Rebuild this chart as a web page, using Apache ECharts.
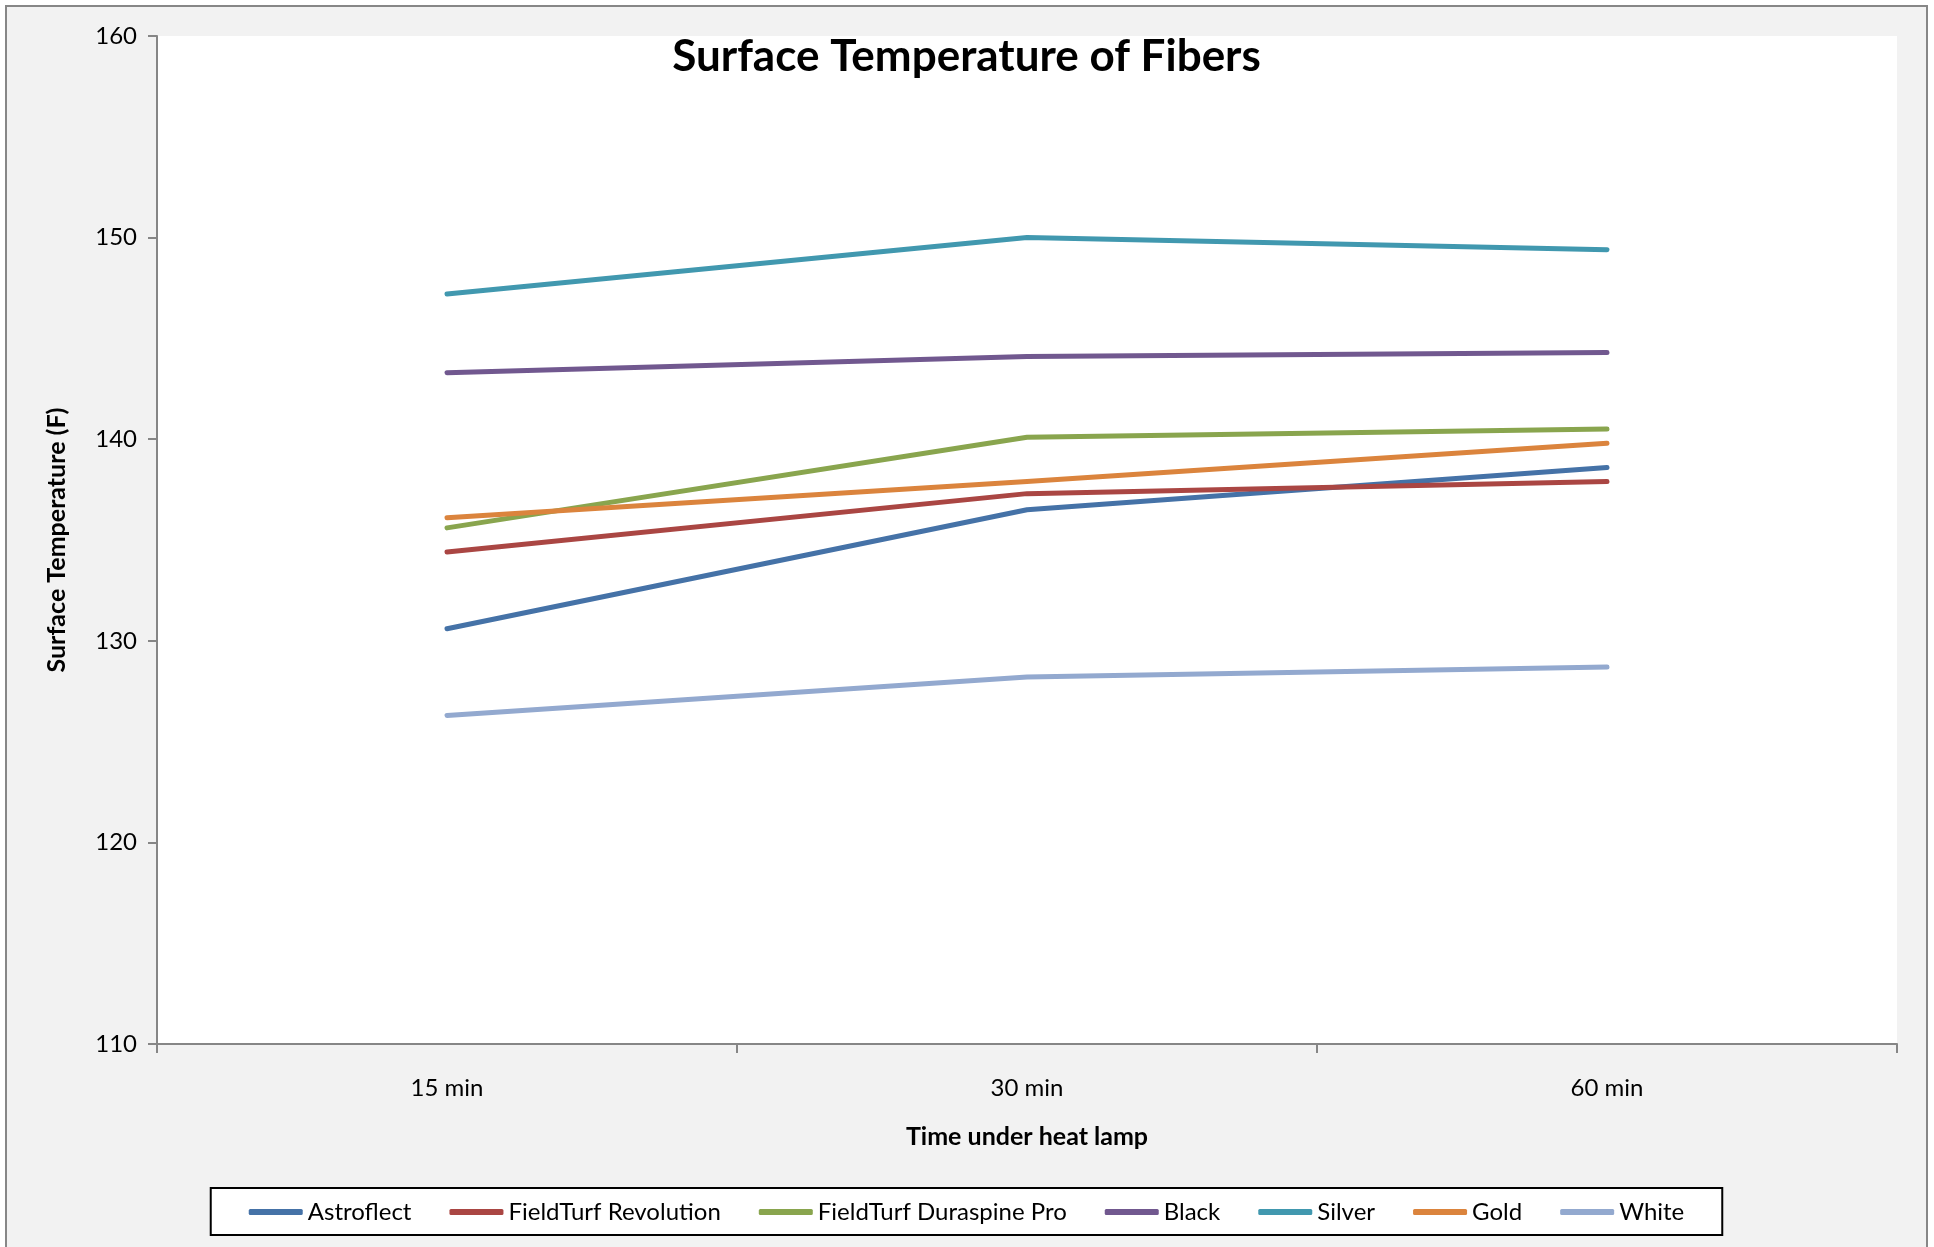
<!DOCTYPE html>
<html>
<head>
<meta charset="utf-8">
<title>Surface Temperature of Fibers</title>
<script src="https://cdn.jsdelivr.net/npm/echarts@6/dist/echarts.min.js"></script>
<style>
  html, body { margin: 0; padding: 0; background: #ffffff; overflow: hidden; }
  #chart {
    position: absolute; left: 5px; top: 5px;
    width: 1919px; height: 1240px;
    border: 2px solid #878787; border-bottom: none;
    background: #f2f2f2;
  }
</style>
</head>
<body>
<div id="chart"></div>
<script>
// Time points along the x axis
const timeLabels = ['15 min', '30 min', '60 min'];

// Surface temperature (F) per fiber type
const astroflect = [130.6, 136.5, 138.6];
const fieldTurfRevolution = [134.4, 137.3, 137.9];
const fieldTurfDuraspinePro = [135.6, 140.1, 140.5];
const black = [143.3, 144.1, 144.3];
const silver = [147.2, 150.0, 149.4];
const gold = [136.1, 137.9, 139.8];
const white = [126.3, 128.2, 128.7];

const seriesNames = ['Astroflect', 'FieldTurf Revolution', 'FieldTurf Duraspine Pro', 'Black', 'Silver', 'Gold', 'White'];
const seriesValues = [astroflect, fieldTurfRevolution, fieldTurfDuraspinePro, black, silver, gold, white];
const seriesColors = ['#4572a7', '#aa4643', '#89a54e', '#71588f', '#4198af', '#db843d', '#93a9cf'];

const FONT = 'Lato, "Open Sans", sans-serif';

const chart = echarts.init(document.getElementById('chart'), null, { renderer: 'canvas' });

chart.setOption({
  backgroundColor: '#f2f2f2',
  animation: false,
  title: {
    text: 'Surface Temperature of Fibers',
    left: 'center',
    top: 23,
    textStyle: { fontFamily: FONT, fontWeight: 'bold', fontSize: 44, color: '#000' }
  },
  grid: {
    left: 150, right: 29, top: 29, bottom: 203,
    show: true, backgroundColor: '#ffffff', borderWidth: 0
  },
  legend: {
    data: seriesNames,
    left: 'center',
    top: 1181,
    icon: 'roundRect',
    itemWidth: 54,
    itemHeight: 6,
    itemGap: 38,
    padding: [12, 38, 11, 38],
    borderColor: '#000',
    borderWidth: 2,
    backgroundColor: '#ffffff',
    textStyle: { fontFamily: FONT, fontSize: 24, color: '#000' }
  },
  xAxis: {
    type: 'category',
    data: timeLabels,
    boundaryGap: true,
    name: 'Time under heat lamp',
    nameLocation: 'middle',
    nameGap: 80,
    nameTextStyle: { fontFamily: FONT, fontWeight: 'bold', fontSize: 25, color: '#000' },
    axisLine: { lineStyle: { color: '#868686', width: 2 } },
    axisTick: { show: true, inside: false, length: 9, lineStyle: { color: '#868686', width: 2 } },
    axisLabel: { fontFamily: FONT, fontSize: 24, color: '#000', margin: 32 },
    splitLine: { show: false }
  },
  yAxis: {
    type: 'value',
    min: 110,
    max: 160,
    interval: 10,
    name: 'Surface Temperature (F)',
    nameLocation: 'middle',
    nameGap: 88,
    nameRotate: 90,
    nameTextStyle: { fontFamily: FONT, fontWeight: 'bold', fontSize: 25, color: '#000' },
    axisLine: { show: true, lineStyle: { color: '#868686', width: 2 } },
    axisTick: { show: true, inside: false, length: 9, lineStyle: { color: '#868686', width: 2 } },
    axisLabel: { fontFamily: FONT, fontSize: 24, color: '#000', margin: 20 },
    splitLine: { show: false }
  },
  series: seriesNames.map((name, i) => ({
    name: name,
    type: 'line',
    data: seriesValues[i],
    symbol: 'none',
    color: seriesColors[i],
    lineStyle: { width: 5, color: seriesColors[i], cap: 'round', join: 'round' },
    emphasis: { disabled: true }
  }))
});
</script>
</body>
</html>
